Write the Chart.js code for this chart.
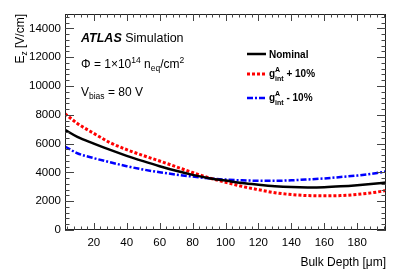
<!DOCTYPE html>
<html>
<head>
<meta charset="utf-8">
<script src="https://cdn.jsdelivr.net/npm/chart.js@4.4.1/dist/chart.umd.min.js"></script>
<style>
html, body { margin: 0; padding: 0; background: #fff; }
</style>
</head>
<body>
<canvas id="myChart" width="407" height="277"></canvas>
<script>
// bulk depth [um] and E_z [V/cm]
var depth   = [2.5, 10, 20, 30, 40, 50, 60, 70, 80, 90, 100, 110, 120, 130, 140, 150, 160, 170, 180, 190, 197.5];
var nominal = [6960, 6470, 6000, 5560, 5150, 4780, 4430, 4110, 3830, 3600, 3430, 3260, 3140, 3040, 2980, 2960, 2975, 3030, 3110, 3210, 3300];
var plus10  = [8080, 7400, 6710, 6060, 5580, 5170, 4790, 4390, 3990, 3620, 3320, 3030, 2800, 2590, 2460, 2390, 2370, 2390, 2470, 2600, 2740];
var minus10 = [5800, 5330, 4990, 4700, 4430, 4200, 4010, 3850, 3710, 3590, 3500, 3450, 3420, 3415, 3450, 3510, 3580, 3680, 3780, 3920, 4060];

var xTicks = [20, 40, 60, 80, 100, 120, 140, 160, 180];
var yTicks = [0, 2000, 4000, 6000, 8000, 10000, 12000, 14000];

var FONT = '"Liberation Sans", Arial, Helvetica, sans-serif';

function pts(ys) {
  return depth.map(function (d, i) { return { x: d, y: ys[i] }; });
}

// draw text pieces with sub/superscripts
function rich(ctx, x, y, parts) {
  parts.forEach(function (p) {
    var w = 0;
    if (p.stack) {
      ctx.font = p.stack[0].font;
      var w1 = ctx.measureText(p.stack[0].t).width;
      ctx.fillText(p.stack[0].t, x, y + p.stack[0].dy);
      ctx.font = p.stack[1].font;
      var w2 = ctx.measureText(p.stack[1].t).width;
      ctx.fillText(p.stack[1].t, x, y + p.stack[1].dy);
      w = Math.max(w1, w2);
    } else {
      ctx.font = p.font;
      ctx.fillText(p.t, x, y + (p.dy || 0));
      w = ctx.measureText(p.t).width;
    }
    x += w;
  });
  return x;
}

var rootStyle = {
  id: 'rootStyle',
  afterDraw: function (chart) {
    var ctx = chart.ctx;
    var a = chart.chartArea;
    var xs = chart.scales.x, ys = chart.scales.y;
    ctx.save();

    // frame
    ctx.strokeStyle = '#222';
    ctx.lineWidth = 1;
    ctx.strokeRect(a.left + 0.5, a.top + 0.5, a.right - a.left - 1, a.bottom - a.top - 1);

    // ticks on all four sides
    ctx.strokeStyle = '#444';
    ctx.beginPath();
    for (var v = 0; v <= 200; v += 4) {
      if (v < xs.min || v > xs.max) continue;
      var px = Math.round(xs.getPixelForValue(v)) + 0.5;
      var len = (v % 20 === 0) ? 7 : 3.5;
      ctx.moveTo(px, a.bottom); ctx.lineTo(px, a.bottom - len);
      ctx.moveTo(px, a.top); ctx.lineTo(px, a.top + len);
    }
    for (var w = 0; w <= 15000; w += 400) {
      if (w < ys.min || w > ys.max) continue;
      var py = Math.round(ys.getPixelForValue(w)) + 0.5;
      var l2 = (w % 2000 === 0) ? 9 : 4.5;
      ctx.moveTo(a.left, py); ctx.lineTo(a.left + l2, py);
      ctx.moveTo(a.right, py); ctx.lineTo(a.right - l2, py);
    }
    ctx.stroke();

    ctx.fillStyle = '#000';
    ctx.textBaseline = 'alphabetic';

    // axis titles
    var f12 = '12px ' + FONT, f8 = '8.5px ' + FONT;
    ctx.textAlign = 'right';
    ctx.font = f12;
    ctx.fillText('Bulk Depth [\u03bcm]', a.right, 266);

    ctx.save();
    ctx.translate(24, a.top);
    ctx.rotate(-Math.PI / 2);
    ctx.textAlign = 'left';
    ctx.font = f12;
    var tw = ctx.measureText('E').width;
    ctx.font = f8;
    tw += ctx.measureText('z').width;
    ctx.font = f12;
    tw += ctx.measureText(' [V/cm]').width;
    rich(ctx, -tw, 0, [
      { t: 'E', font: f12 },
      { t: 'z', font: f8, dy: 3 },
      { t: ' [V/cm]', font: f12 }
    ]);
    ctx.restore();

    // labels
    ctx.textAlign = 'left';
    rich(ctx, 81, 42, [
      { t: 'ATLAS', font: 'italic bold 12.5px ' + FONT },
      { t: ' Simulation', font: '12.5px ' + FONT }
    ]);
    rich(ctx, 81, 68, [
      { t: '\u03a6 = 1\u00d710', font: f12 },
      { t: '14', font: f8, dy: -5 },
      { t: ' n', font: f12 },
      { t: 'eq', font: f8, dy: 3 },
      { t: '/cm', font: f12 },
      { t: '2', font: f8, dy: -5 }
    ]);
    rich(ctx, 81, 96, [
      { t: 'V', font: f12 },
      { t: 'bias', font: f8, dy: 3 },
      { t: ' = 80 V', font: f12 }
    ]);

    // legend
    var lb = 'bold 10px ' + FONT, ls = 'bold 7px ' + FONT;
    var items = [
      { y: 54, color: '#000', dash: [], width: 2.5 },
      { y: 74, color: '#ff0000', dash: [3, 2], width: 3 },
      { y: 98, color: '#0000ff', dash: [6, 2, 2, 2], width: 2.5 }
    ];
    items.forEach(function (it) {
      ctx.beginPath();
      ctx.setLineDash(it.dash);
      ctx.lineWidth = it.width;
      ctx.strokeStyle = it.color;
      ctx.moveTo(247, it.y);
      ctx.lineTo(266, it.y);
      ctx.stroke();
    });
    ctx.setLineDash([]);
    rich(ctx, 269, 58, [{ t: 'Nominal', font: lb }]);
    rich(ctx, 269, 77, [
      { t: 'g', font: lb },
      { stack: [{ t: 'A', font: ls, dy: -5 }, { t: 'int', font: ls, dy: 4 }] },
      { t: ' + 10%', font: lb }
    ]);
    rich(ctx, 269, 101, [
      { t: 'g', font: lb },
      { stack: [{ t: 'A', font: ls, dy: -5 }, { t: 'int', font: ls, dy: 4 }] },
      { t: ' - 10%', font: lb }
    ]);

    ctx.restore();
  }
};

function plain(v) { return String(v); }

var ctx = document.getElementById('myChart').getContext('2d');
var myChart = new Chart(ctx, {
  type: 'line',
  data: {
    datasets: [
      { label: 'Nominal', data: pts(nominal), borderColor: '#000', borderWidth: 2.5,
        pointRadius: 0, cubicInterpolationMode: 'monotone', fill: false },
      { label: 'g_int^A + 10%', data: pts(plus10), borderColor: '#ff0000', borderWidth: 3,
        borderDash: [3, 2], pointRadius: 0, cubicInterpolationMode: 'monotone', fill: false },
      { label: 'g_int^A - 10%', data: pts(minus10), borderColor: '#0000ff', borderWidth: 2.5,
        borderDash: [6, 2, 2, 2], pointRadius: 0, cubicInterpolationMode: 'monotone', fill: false }
    ]
  },
  options: {
    responsive: false,
    animation: false,
    devicePixelRatio: 1,
    layout: { padding: { top: 14, right: 21, left: 0, bottom: 0 } },
    plugins: { legend: { display: false }, tooltip: { enabled: false } },
    scales: {
      x: {
        type: 'linear', min: 2.5, max: 197.5,
        grid: { display: false, drawTicks: false },
        border: { display: false },
        afterBuildTicks: function (s) { s.ticks = xTicks.map(function (v) { return { value: v }; }); },
        afterFit: function (s) { s.height = 47; },
        ticks: { color: '#000', font: { family: FONT, size: 11.5 }, padding: 6, maxRotation: 0, autoSkip: false, callback: plain }
      },
      y: {
        min: 0, max: 15000,
        grid: { display: false, drawTicks: false },
        border: { display: false },
        afterBuildTicks: function (s) { s.ticks = yTicks.map(function (v) { return { value: v }; }); },
        afterFit: function (s) { s.width = 65; },
        ticks: { color: '#000', font: { family: FONT, size: 11.5 }, padding: 4, autoSkip: false, callback: plain }
      }
    }
  },
  plugins: [rootStyle]
});
</script>
</body>
</html>
